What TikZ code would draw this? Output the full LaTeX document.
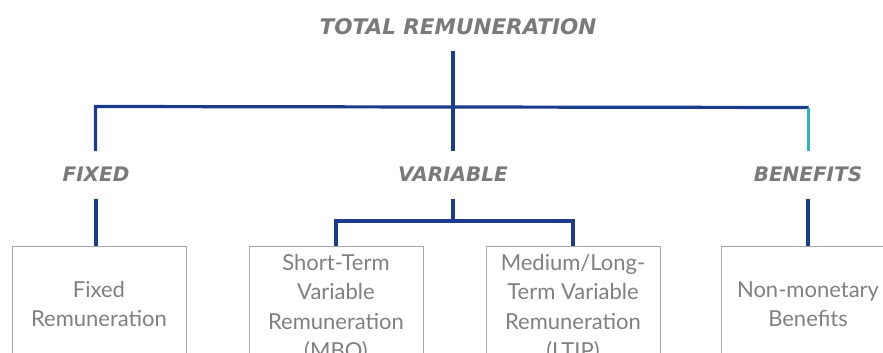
\documentclass[tikz,border=0pt]{standalone}
\usepackage{fontspec}
\setmainfont{Lato}
\newfontfamily\headfont{DejaVu Sans}
\definecolor{linkblue}{HTML}{1B3C8C}
\definecolor{linkteal}{HTML}{2BB3C0}
\definecolor{headgray}{HTML}{7A7A7A}
\definecolor{textgray}{HTML}{808080}
\definecolor{boxgray}{HTML}{A6A6A6}
\begin{document}
\begin{tikzpicture}[x=1pt,y=-1pt,
  heading/.style={font=\headfont\bfseries\itshape\fontsize{20}{24}\selectfont, text=headgray, inner sep=0pt},
  itembox/.style={draw=boxgray, line width=1pt, minimum width=174pt, minimum height=124pt,
    anchor=north, align=center, text=textgray, inner sep=0pt,
    font=\fontsize{22}{29.5}\selectfont},
  shortbox/.style={itembox, minimum height=116pt},
  link/.style={draw=linkblue, line width=3.2pt},
  tealink/.style={draw=linkteal, line width=3.2pt}]
\useasboundingbox (0,0) rectangle (883,353);
\clip (0,0) rectangle (883,353);

% headings
\node[heading, font=\headfont\bfseries\itshape\fontsize{21.5}{26}\selectfont] (total) at (458,27) {TOTAL REMUNERATION};
\node[heading] (fixed) at (96,174.5) {FIXED};
\node[heading] (variable) at (453,174.5) {VARIABLE};
\node[heading] (benefits) at (808,174.5) {BENEFITS};

% component boxes
\node[shortbox] (fixrem) at (99,245.5) {Fixed\\Remuneration};
\node[itembox] (short) at (336,245.5) {Short-Term\\Variable\\Remuneration\\(MBO)};
\node[itembox] (medium) at (573,245.5) {Medium/Long-\\Term Variable\\Remuneration\\(LTIP)};
\node[shortbox] (nonmon) at (808,245.5) {Non-monetary\\Benefits};

% bus coordinates
\coordinate (topfork) at (453,51);
\coordinate (busL) at (95.5,106.5);
\coordinate (busC) at (453,107);
\coordinate (busR) at (808.5,107.5);
\coordinate (fixT) at (95.5,151);
\coordinate (varT) at (453,151);
\coordinate (benT) at (808.5,151);
\coordinate (fixB) at (96,199);
\coordinate (varB) at (453,199);
\coordinate (benB) at (808,199);
\coordinate (varbus) at (453,221);

% upper tree
\draw[link] (topfork) -- (busC);
\draw[link, line join=miter] (fixT) -- (busL) -- (busR);
\draw[link] (busC) -- (varT);
\draw[tealink] (busR) -- (benT);

% lower connectors
\draw[link] (fixB) -- (fixB |- fixrem.north);
\draw[link] (varB) -- (varbus);
\draw[link, line join=miter] (short.north) -- (short.north |- varbus) -- (medium.north |- varbus) -- (medium.north);
\draw[link] (benB) -- (benB |- nonmon.north);
\end{tikzpicture}
\end{document}
